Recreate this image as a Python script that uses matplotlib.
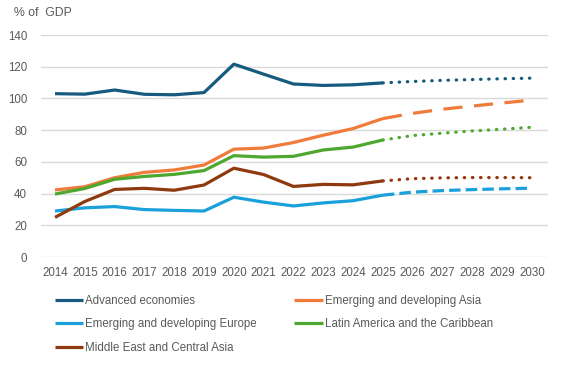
import matplotlib.pyplot as plt

plt.rcParams['font.family'] = ['Liberation Sans', 'DejaVu Sans']

years = list(range(2014, 2031))
last_actual = 2025  # projections after this year

advanced = [103.0, 102.7, 105.3, 102.6, 102.3, 103.7, 121.6, 115.3, 109.1, 108.2, 108.6, 109.8,
            110.7, 111.4, 111.9, 112.4, 112.8]
em_asia = [42.3, 44.3, 50.0, 53.4, 54.9, 58.0, 68.0, 68.7, 72.2, 76.8, 81.0, 87.3,
           90.6, 93.2, 95.2, 97.1, 99.0]
em_europe = [29.0, 31.0, 31.8, 29.9, 29.4, 29.0, 37.7, 34.6, 32.2, 34.1, 35.5, 39.0,
             40.9, 41.9, 42.5, 43.0, 43.4]
latam = [39.7, 43.2, 49.0, 50.8, 52.1, 54.5, 63.9, 63.0, 63.5, 67.5, 69.3, 73.8,
         76.6, 78.1, 79.5, 80.6, 81.8]
me_ca = [25.0, 35.0, 42.6, 43.3, 42.1, 45.4, 56.0, 52.0, 44.5, 45.8, 45.5, 48.0,
         49.4, 49.9, 50.1, 50.1, 50.0]

series = [
    ("Advanced economies", advanced, "#165B7E", (0, (0.15, 2.4)), "round"),
    ("Emerging and developing Asia", em_asia, "#F07B3A", (0, (6.0, 3.6)), "butt"),
    ("Emerging and developing Europe", em_europe, "#1AA0DB", (0, (3.6, 1.6)), "butt"),
    ("Latin America and the Caribbean", latam, "#4EA72E", (0, (0.15, 2.4)), "round"),
    ("Middle East and Central Asia", me_ca, "#8E3A0E", (0, (0.15, 2.4)), "round"),
]

fig = plt.figure(figsize=(5.62, 3.65), dpi=100)
ax = fig.add_axes([41/562, 1 - 257/365, 507/562, 222/365])

grey = "#595959"
lines = {}
i0 = years.index(last_actual)
for name, vals, col, ls, cap in series:
    ln, = ax.plot(years[:i0 + 1], vals[:i0 + 1], color=col, lw=2.3,
                  solid_capstyle="butt", label=name)
    ax.plot(years[i0:], vals[i0:], color=col, lw=2.3, linestyle=ls,
            dash_capstyle=cap)
    lines[name] = ln

ax.set_ylim(0, 140)
ax.set_xlim(2013.53, 2030.54)
ax.set_yticks(range(0, 141, 20))
ax.set_xticks(years)
ax.grid(axis="y", color="#D9D9D9", lw=1)
ax.set_axisbelow(True)
for s in ax.spines.values():
    s.set_visible(False)
ax.tick_params(length=0, labelsize=8.3, labelcolor=grey)
ax.tick_params(axis="y", pad=10)
ax.tick_params(axis="x", pad=7)

fig.text(14/562, 1 - 13/365, "% of  GDP", fontsize=8.8, color=grey, va="center")

order = ["Advanced economies", "Emerging and developing Europe",
         "Middle East and Central Asia", "Emerging and developing Asia",
         "Latin America and the Caribbean"]
leg = fig.legend([lines[n] for n in order], order, ncol=2, loc="upper left",
                 bbox_to_anchor=(50/562, 1 - 290/365), frameon=False,
                 fontsize=8.3, handlelength=2.5, handletextpad=0.15,
                 columnspacing=3.25, labelspacing=1.0, borderaxespad=0)
for t in leg.get_texts():
    t.set_color(grey)

fig.savefig("out.png", dpi=100)
